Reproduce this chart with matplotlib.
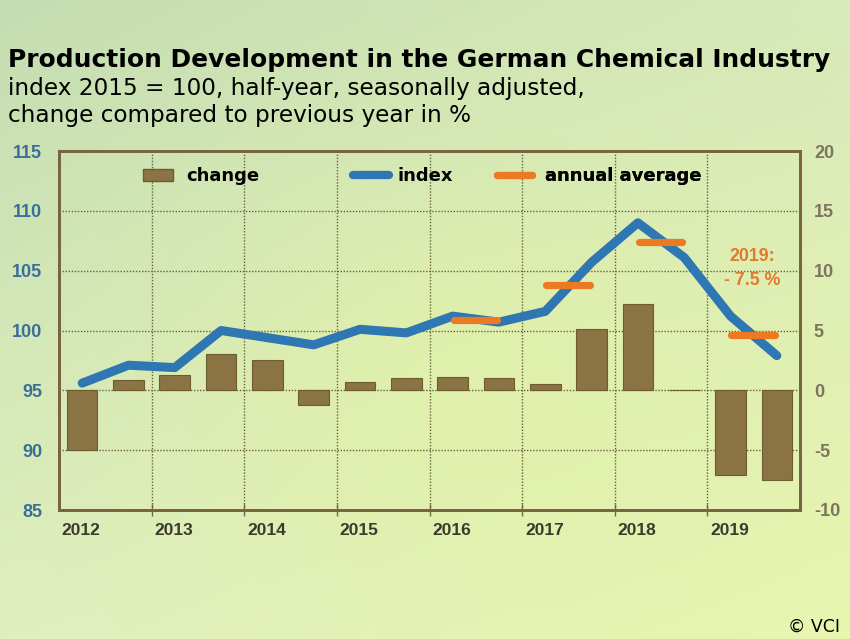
import numpy as np
import matplotlib.pyplot as plt
from matplotlib.patches import Patch
from matplotlib.lines import Line2D

plt.rcParams["axes.unicode_minus"] = False

# half-year positions (centre of each half)
halves = [2012.25, 2012.75, 2013.25, 2013.75, 2014.25, 2014.75, 2015.25, 2015.75,
          2016.25, 2016.75, 2017.25, 2017.75, 2018.25, 2018.75, 2019.25, 2019.75]
index = [95.6, 97.1, 96.9, 100.0, 99.4, 98.8, 100.1, 99.8,
         101.2, 100.7, 101.6, 105.7, 109.0, 106.1, 101.2, 97.9]
change = [-5.0, 0.9, 1.3, 3.0, 2.5, -1.2, 0.7, 1.0,
          1.1, 1.0, 0.5, 5.1, 7.2, 0.0, -7.1, -7.5]
avg_years = [2016, 2017, 2018, 2019]
avg_values = [100.9, 103.8, 107.4, 99.6]
years = [2012, 2013, 2014, 2015, 2016, 2017, 2018, 2019]

brown = "#8b7443"
blue = "#2f77b3"
orange = "#ec7a22"
spine_c = "#7a6440"

W, H = 850, 639
fig = plt.figure(figsize=(W / 100, H / 100), dpi=100)

# background gradient
bg = fig.add_axes([0, 0, 1, 1], zorder=-10)
yy, xx = np.mgrid[0:1:200j, 0:1:260j]
tl = np.array([196, 221, 178]); tr = np.array([216, 233, 186])
bl = np.array([224, 239, 190]); br = np.array([232, 246, 176])
img = (tl * ((1 - xx) * (1 - yy))[..., None] + tr * (xx * (1 - yy))[..., None]
       + bl * ((1 - xx) * yy)[..., None] + br * (xx * yy)[..., None])
bump = np.exp(-(((xx - 0.55) / 0.35) ** 2 + ((yy - 0.6) / 0.35) ** 2))[..., None]
img = img * (1 - 0.5 * bump) + np.array([228, 243, 162]) * 0.5 * bump
bg.imshow(img / 255, aspect="auto", extent=[0, 1, 0, 1])
bg.axis("off")

ax = fig.add_axes([59 / W, 1 - 510 / H, 741 / W, 359 / H])
ax.set_facecolor("none")
ax2 = ax.twinx()

# bars on the change axis (right side)
ax.bar(halves, change, width=0.33, color=brown, edgecolor="#6f5b32", linewidth=0.8, zorder=2)
ax.set_ylim(-10, 20)
ax.set_xlim(2012, 2020)
ax.yaxis.tick_right()
ax.set_yticks(range(-10, 21, 5))

# index line and annual averages on the left axis
ax2.plot(halves, index, color=blue, lw=6.5, solid_joinstyle="round",
         solid_capstyle="round", zorder=3)
for y, v in zip(avg_years, avg_values):
    ax2.plot([y + 0.26, y + 0.73], [v, v], color=orange, lw=5.2,
             solid_capstyle="round", zorder=4)
ax2.set_ylim(85, 115)
ax2.yaxis.tick_left()
ax2.set_yticks(range(85, 116, 5))

ax.text(2019.48, 10.2, "2019:\n- 7.5 %", color="#e07b2c", fontsize=12.8,
        fontweight="bold", family="Liberation Sans", ha="center", va="center",
        linespacing=1.55)

# grid
for y in range(-5, 20, 5):
    ax.axhline(y, color="#6b6040", lw=1, ls=(0, (1, 1.2)), zorder=1)
ax.set_xticks(years[1:])
ax.set_xticklabels([])
ax.grid(axis="x", color="#6b6040", lw=1, ls=(0, (1, 1.2)), zorder=1)
for sp in list(ax.spines.values()) + list(ax2.spines.values()):
    sp.set_color(spine_c)
    sp.set_linewidth(2)

ax.tick_params(axis="x", direction="inout", length=8, color=spine_c, width=1)
ax.tick_params(axis="y", length=0, pad=10, labelsize=13, labelcolor="#7d7560")
ax2.tick_params(axis="y", length=0, pad=12, labelsize=13, labelcolor="#3b6e99")
for lab in ax.get_yticklabels() + ax2.get_yticklabels():
    lab.set_fontweight("bold")
    lab.set_family("Liberation Sans")

for yr in years:
    ax.text(yr + 0.03, -11.75, str(yr), fontsize=12.5, fontweight="bold",
            family="Liberation Sans", color="#3b3a2c", ha="left", va="center")

# legend, three separate entries
leg_font = {"family": "DejaVu Sans", "weight": "bold", "size": 13}
entries = [
    (Patch(facecolor=brown, edgecolor="#6f5b32"), "change", 143, 1.67, 0.72),
    (Line2D([], [], color=blue, lw=6, solid_capstyle="round"), "index", 353, 2.0, 0.45),
    (Line2D([], [], color=orange, lw=5.2, solid_capstyle="round"), "annual average", 497, 1.95, 0.72),
]
for handle, label, px, hl, tp in entries:
    leg = ax2.legend([handle], [label], loc="center left", frameon=False, prop=leg_font,
                     bbox_to_anchor=(px / W, 1 - 176 / H), bbox_transform=fig.transFigure,
                     borderpad=0, borderaxespad=0, handlelength=hl, handletextpad=tp,
                     handleheight=0.65)
    ax2.add_artist(leg)

# titles
fig.text(8 / W, 1 - 67 / H, "Production Development in the German Chemical Industry",
         fontsize=17.95, fontweight="bold", family="DejaVu Sans", va="baseline")
fig.text(8 / W, 1 - 95 / H, "index 2015 = 100, half-year, seasonally adjusted,",
         fontsize=16.7, family="DejaVu Sans", va="baseline")
fig.text(8 / W, 1 - 122 / H, "change compared to previous year in %",
         fontsize=16.7, family="DejaVu Sans", va="baseline")
fig.text(840 / W, 1 - 632 / H, "© VCI", fontsize=12.5, family="DejaVu Sans",
         ha="right", va="baseline")

fig.savefig("out.png", dpi=100)
